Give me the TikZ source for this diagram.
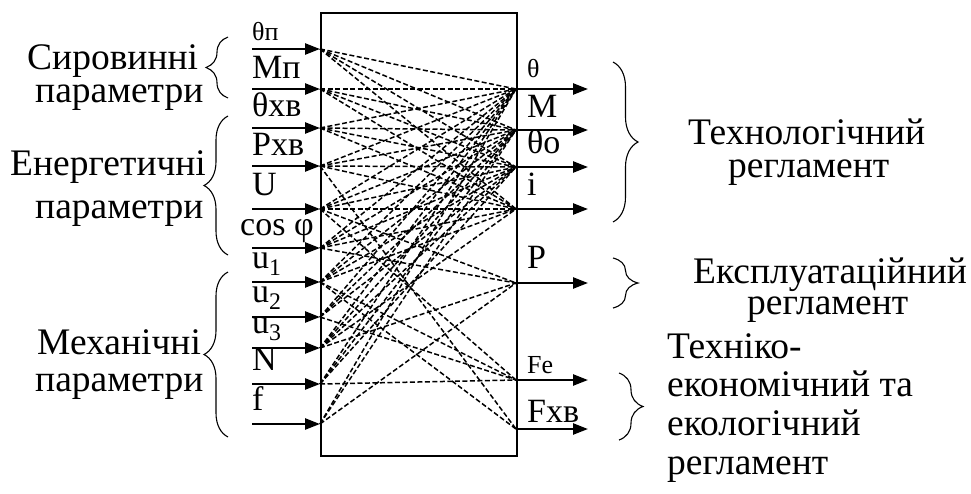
\documentclass[tikz,border=0pt]{standalone}
\usepackage{fontspec}
\setmainfont{Liberation Serif}
\usetikzlibrary{arrows.meta,decorations.pathreplacing}
\begin{document}
\begin{tikzpicture}[x=1pt,y=-1pt,
  title/.style={font=\fontsize{37.5}{40}\selectfont, inner sep=0pt, anchor=base west},
  sym/.style={font=\fontsize{34}{36}\selectfont, inner sep=0pt, anchor=base west},
  smallsym/.style={font=\fontsize{26}{28}\selectfont, inner sep=0pt, anchor=base west},
  flow/.style={line width=2.4pt, -{Triangle[length=15pt,width=11pt]}},
  conn/.style={line width=1.5pt, dash pattern=on 5pt off 2.5pt},
  grp/.style={line width=1.1pt, decorate, decoration={brace, amplitude=#1}},
  grp/.default=20pt]
\useasboundingbox (0,0) rectangle (971,493);

% the block
\node[draw, line width=1.5pt, minimum width=196pt, minimum height=443pt,
      anchor=north west, inner sep=0pt] (box) at (320,12) {};

% input arrows
\foreach \i/\y in {1/49,2/89,3/128,4/166,5/209,6/248,7/282,8/317,9/348,10/384,11/424}{
  \coordinate (is\i) at (252,\y);
  \coordinate (ie\i) at (320,\y);
}
% output arrows
\foreach \j/\y in {1/89,2/130,3/167,4/209,5/283,6/380,7/429}{
  \coordinate (os\j) at (516,\y);
  \coordinate (oe\j) at (588,\y);
}

% links between inputs and outputs
\foreach \i/\outs in {1/{1,2,3,4},2/{1,2,3,4},3/{1,2,3,4},4/{1,2,3,4,7},
    5/{1,2,3,4,5,6},6/{1,2,3,4,5},7/{1,2,3,4,6,7},8/{1,2,3,6},
    9/{1,2,3,4,5},10/{1,2,3,6},11/{1,2,5}}{
  \foreach \j in \outs {
    \draw[conn] (ie\i) -- (os\j);
  }
}

\foreach \i in {1,...,11} { \draw[flow] (is\i) -- (ie\i); }
\foreach \j in {1,...,7} { \draw[flow] (os\j) -- (oe\j); }

% input labels
\node[smallsym] (l1) at (252,40) {θп};
\node[sym] (l2) at (252,78) {Мп};
\node[sym] (l3) at (252,116) {θхв};
\node[sym] (l4) at (252,155) {Рхв};
\node[sym] (l5) at (252,195) {U};
\node[sym] (l6) at (240,235) {cos φ};
\node[sym] (l7) at (252,268) {u\textsubscript{1}};
\node[sym] (l8) at (252,302) {u\textsubscript{2}};
\node[sym] (l9) at (252,333) {u\textsubscript{3}};
\node[sym] (l10) at (252,370) {N};
\node[sym] (l11) at (252,410) {f};

% output labels
\node[smallsym] (r1) at (527,77) {θ};
\node[sym] (r2) at (527,117) {M};
\node[sym] (r3) at (527,153) {θo};
\node[sym] (r4) at (527,195) {i};
\node[sym] (r5) at (527,268) {P};
\node[smallsym] (r6) at (527,373) {Fe};
\node[sym] (r7) at (527,422) {Fхв};

% input groups
\draw[grp=22pt] (228,98) -- (228,37);
\draw[grp=24pt] (228,255) -- (228,116);
\draw[grp=24pt] (228,437) -- (228,272);
\node[title] (g1a) at (27,69) {Сировинні};
\node[title] (g1b) at (35,102) {параметри};
\node[title] (g2a) at (10,175) {Енергетичні};
\node[title] (g2b) at (35,218) {параметри};
\node[title] (g3a) at (37,354) {Механічні};
\node[title] (g3b) at (35,391) {параметри};

% output groups
\draw[grp=25pt] (613,62) -- (613,222);
\draw[grp=25pt] (613,258) -- (613,308);
\draw[grp=24pt] (619,373) -- (619,440);
\node[title] (h1a) at (688,144) {Технологічний};
\node[title] (h1b) at (728,177) {регламент};
\node[title] (h2a) at (693,283) {Експлуатаційний};
\node[title] (h2b) at (747,314) {регламент};
\node[title] (h3a) at (667,358) {Техніко-};
\node[title] (h3b) at (667,396) {економічний та};
\node[title] (h3c) at (667,435) {екологічний};
\node[title] (h3d) at (667,474) {регламент};
\end{tikzpicture}
\end{document}
